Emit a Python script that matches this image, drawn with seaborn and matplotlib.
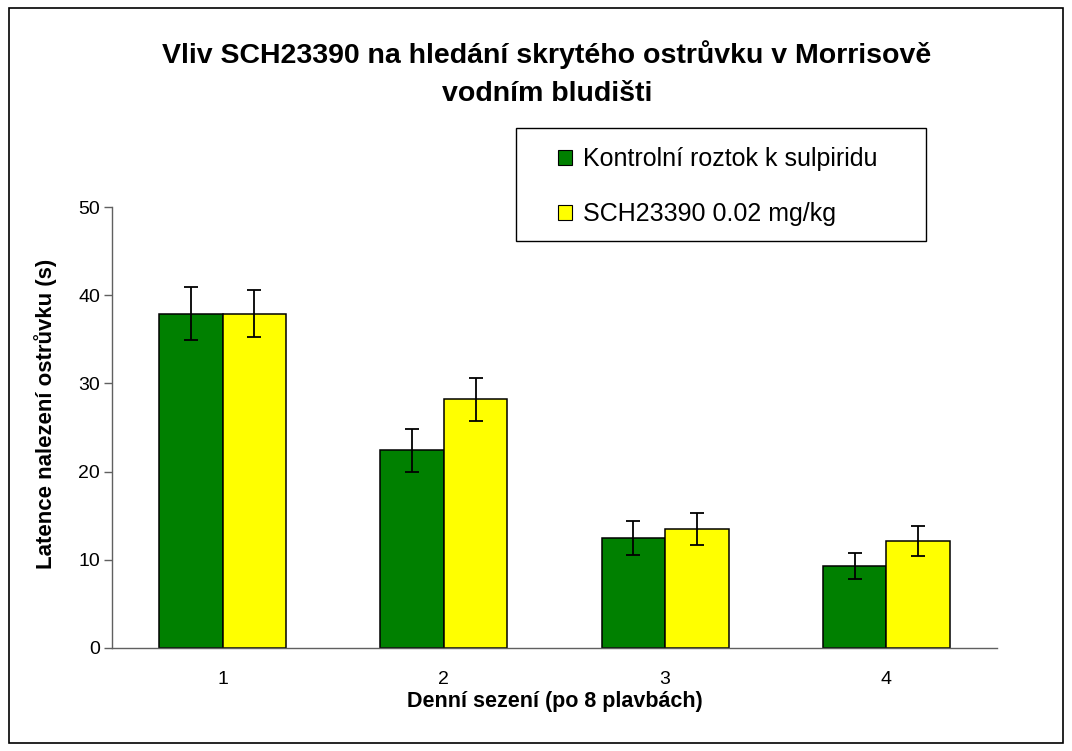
import pandas as pd
import numpy as np
import matplotlib
matplotlib.use("Agg")
import matplotlib.pyplot as plt
import seaborn as sns
from matplotlib.patches import Rectangle, Patch

# data
sessions = ["1", "2", "3", "4"]
groups = ["Kontrolní roztok k sulpiridu", "SCH23390 0.02 mg/kg"]
control_mean = [37.9, 22.4, 12.5, 9.3]
control_err = [3.0, 2.4, 1.9, 1.45]
sch_mean = [37.9, 28.2, 13.5, 12.1]
sch_err = [2.65, 2.45, 1.8, 1.7]
colors = ["#008000", "#FFFF00"]

df = pd.DataFrame({
    "session": sessions * 2,
    "group": [groups[0]] * 4 + [groups[1]] * 4,
    "latency": control_mean + sch_mean,
    "err": control_err + sch_err,
})

sns.set_style("white")
plt.rcParams["font.family"] = ["Liberation Sans", "DejaVu Sans"]
plt.rcParams["text.color"] = "black"
plt.rcParams["axes.labelcolor"] = "black"
plt.rcParams["xtick.labelcolor"] = "black"
plt.rcParams["ytick.labelcolor"] = "black"

W, H = 1072, 751
fig = plt.figure(figsize=(W / 100, H / 100), dpi=100)
ax = fig.add_axes([112 / W, 1 - 648 / H, 885 / W, 441 / H])

sns.barplot(data=df, x="session", y="latency", hue="group", order=sessions,
            hue_order=groups, palette=colors, errorbar=None, width=0.574,
            edgecolor="black", linewidth=1.1, saturation=1, ax=ax, legend=False)

# error bars at the centres of the drawn bars
for cont, g in zip(ax.containers, groups):
    sub = df[df["group"] == g].set_index("session").loc[sessions]
    xs = [b.get_x() + b.get_width() / 2 for b in cont]
    hs = [b.get_height() for b in cont]
    ax.errorbar(xs, hs, yerr=sub["err"].values, fmt="none", ecolor="black",
                elinewidth=1.3, capsize=4.7, capthick=1.3, zorder=5)

ax.set_xlim(-0.5, 3.5)
ax.set_ylim(0, 50)
ax.set_yticks([0, 10, 20, 30, 40, 50])
ax.tick_params(axis="y", which="both", left=True, length=5.5, width=1,
               color="#606060", labelcolor="black", labelsize=14, pad=3)
ax.tick_params(axis="x", bottom=False, labelcolor="black", labelsize=14, pad=13)
for side in ["top", "right"]:
    ax.spines[side].set_visible(False)
for side in ["left", "bottom"]:
    ax.spines[side].set_color("#606060")
    ax.spines[side].set_linewidth(1)

ax.set_xlabel("Denní sezení (po 8 plavbách)", fontsize=15.5, fontweight="bold",
              color="black")
ax.xaxis.set_label_coords(0.5, -0.097)
ax.set_ylabel("Latence nalezení ostrůvku (s)", fontsize=16, fontweight="bold",
              color="black")
ax.yaxis.set_label_coords(-0.062, 0.53)

fig.text(0.51, 0.947, "Vliv SCH23390 na hledání skrytého ostrůvku v Morrisově\nvodním bludišti",
         ha="center", va="top", fontsize=20.5, fontweight="bold", linespacing=1.62,
         color="black")

# legend: frame drawn as a plain box, entries placed inside it
fig.patches.append(Rectangle((516 / W, 1 - 241 / H), 410 / W, 113 / H,
                             transform=fig.transFigure, fill=False,
                             edgecolor="black", linewidth=1))
handles = [Patch(facecolor=c, edgecolor="black", linewidth=0.8) for c in colors]
leg = fig.legend(handles, groups, loc="upper left",
                 bbox_to_anchor=(558 / W, 1 - 147 / H), bbox_transform=fig.transFigure,
                 fontsize=18, frameon=False, borderaxespad=0, borderpad=0,
                 handlelength=0.55, handleheight=0.55, handletextpad=0.45,
                 labelspacing=1.25)
for t in leg.get_texts():
    t.set_color("black")

# outer chart border
fig.patches.append(Rectangle((0.008, 0.01), 0.984, 0.979, transform=fig.transFigure,
                             fill=False, edgecolor="black", linewidth=1.2))

fig.savefig("out.png", dpi=100, facecolor="white")
